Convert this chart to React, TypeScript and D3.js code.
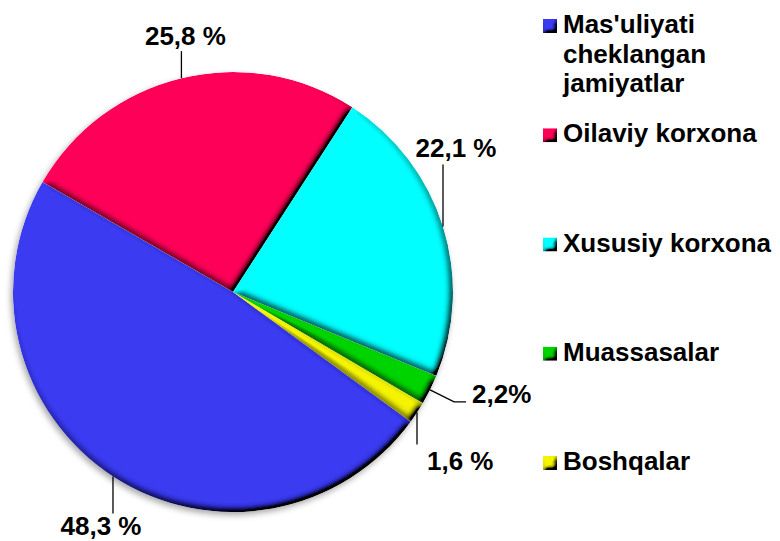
import React from "react";
import * as d3 from "d3";

// legend order (pie is drawn clockwise in this order too)
const categories = [
  "Mas'uliyati cheklangan jamiyatlar",
  "Oilaviy korxona",
  "Xususiy korxona",
  "Muassasalar",
  "Boshqalar",
];
const legendLines = [
  ["Mas'uliyati", "cheklangan", "jamiyatlar"],
  ["Oilaviy korxona"],
  ["Xususiy korxona"],
  ["Muassasalar"],
  ["Boshqalar"],
];
const shares = [48.3, 25.8, 22.1, 2.2, 1.6];
const valueLabels = ["48,3 %", "25,8 %", "22,1 %", "2,2%", "1,6 %"];
const colors = ["#3a3af2", "#ff0058", "#00ffff", "#00d400", "#f4f400"];

// leader line shapes, relative to the point on the rim
const leaders = [
  { path: [[0, 0], [0, 37]], text: [-12, 22], anchor: "middle" },
  { path: [[0, 0], [0, -27]], text: [4, -6], anchor: "middle" },
  { path: [[0, 0], [0, -62]], text: [13, -7], anchor: "middle" },
  { path: [[0, 0], [24, 12], [36, 12]], text: [6, 1], anchor: "start" },
  { path: [[0, 0], [0, 32]], text: [10, 25], anchor: "start" },
];

const width = 780;
const height = 541;
const cx = 233;
const cy = 292;
const radius = 220;
const redStart = (-60 * Math.PI) / 180;
const font = "'Liberation Sans', Arial, sans-serif";

export default function App() {
  const total = d3.sum(shares);
  const start = redStart - (shares[0] / total) * 2 * Math.PI;
  const pie = d3
    .pie<number>()
    .sort(null)
    .value((d) => d)
    .startAngle(start)
    .endAngle(start + 2 * Math.PI);
  const arcs = pie(shares);
  const arc = d3.arc<d3.PieArcDatum<number>>().innerRadius(0).outerRadius(radius);
  const line = d3.line();

  const legendY = d3.scalePoint<string>().domain(categories).range([33, 470]);

  return (
    <svg
      width={width}
      height={height}
      style={{ position: "absolute", left: 0, top: 0, background: "#fff" }}
    >
      <defs>
        <filter id="bevel" x="-5%" y="-5%" width="110%" height="110%">
          <feGaussianBlur in="SourceAlpha" stdDeviation="3.5" result="blur" />
          <feDiffuseLighting
            in="blur"
            surfaceScale="7"
            diffuseConstant="1.3"
            lightingColor="#ffffff"
            result="light"
          >
            <feDistantLight azimuth="235" elevation="50" />
          </feDiffuseLighting>
          <feComposite in="SourceGraphic" in2="light" operator="arithmetic" k1="1" k2="0" k3="0" k4="0" result="lit" />
          <feComposite in="lit" in2="SourceAlpha" operator="in" />
        </filter>
        <filter id="bevelSmall" x="-20%" y="-20%" width="140%" height="140%">
          <feGaussianBlur in="SourceAlpha" stdDeviation="2" result="blur" />
          <feDiffuseLighting in="blur" surfaceScale="6" diffuseConstant="1.3" lightingColor="#ffffff" result="light">
            <feDistantLight azimuth="235" elevation="50" />
          </feDiffuseLighting>
          <feComposite in="SourceGraphic" in2="light" operator="arithmetic" k1="1" k2="0" k3="0" k4="0" result="lit" />
          <feComposite in="lit" in2="SourceAlpha" operator="in" />
        </filter>
        <filter id="shadow" x="-10%" y="-10%" width="120%" height="120%">
          <feDropShadow dx="-2" dy="3" stdDeviation="3" floodColor="#000" floodOpacity="0.35" />
        </filter>
      </defs>

      <g transform={`translate(${cx},${cy})`} filter="url(#shadow)">
        {arcs.map((a, i) => (
          <path key={categories[i]} d={arc(a) || ""} fill={colors[i]} filter="url(#bevel)" />
        ))}
      </g>

      {/* value labels with leader lines */}
      <g fontFamily={font} fontWeight="bold" fontSize={26} fill="#000">
        {arcs.map((a, i) => {
          const mid = (a.startAngle + a.endAngle) / 2;
          const ax = cx + radius * Math.sin(mid);
          const ay = cy - radius * Math.cos(mid);
          const pts = leaders[i].path.map(([dx, dy]) => [ax + dx, ay + dy] as [number, number]);
          const end = pts[pts.length - 1];
          return (
            <g key={valueLabels[i]}>
              <path d={line(pts) || ""} fill="none" stroke="#000" strokeWidth={1.3} />
              <text
                x={end[0] + leaders[i].text[0]}
                y={end[1] + leaders[i].text[1]}
                textAnchor={leaders[i].anchor}
              >
                {valueLabels[i]}
              </text>
            </g>
          );
        })}
      </g>

      {/* legend */}
      <g fontFamily={font} fontWeight="bold" fontSize={26} fill="#000">
        {categories.map((c, i) => {
          const y = legendY(c) || 0;
          return (
            <g key={c}>
              <rect x={543} y={y - 14} width={14} height={14} fill={colors[i]} filter="url(#bevelSmall)" />
              {legendLines[i].map((t, j) => (
                <text key={t} x={563} y={y + j * 29.5}>
                  {t}
                </text>
              ))}
            </g>
          );
        })}
      </g>
    </svg>
  );
}
